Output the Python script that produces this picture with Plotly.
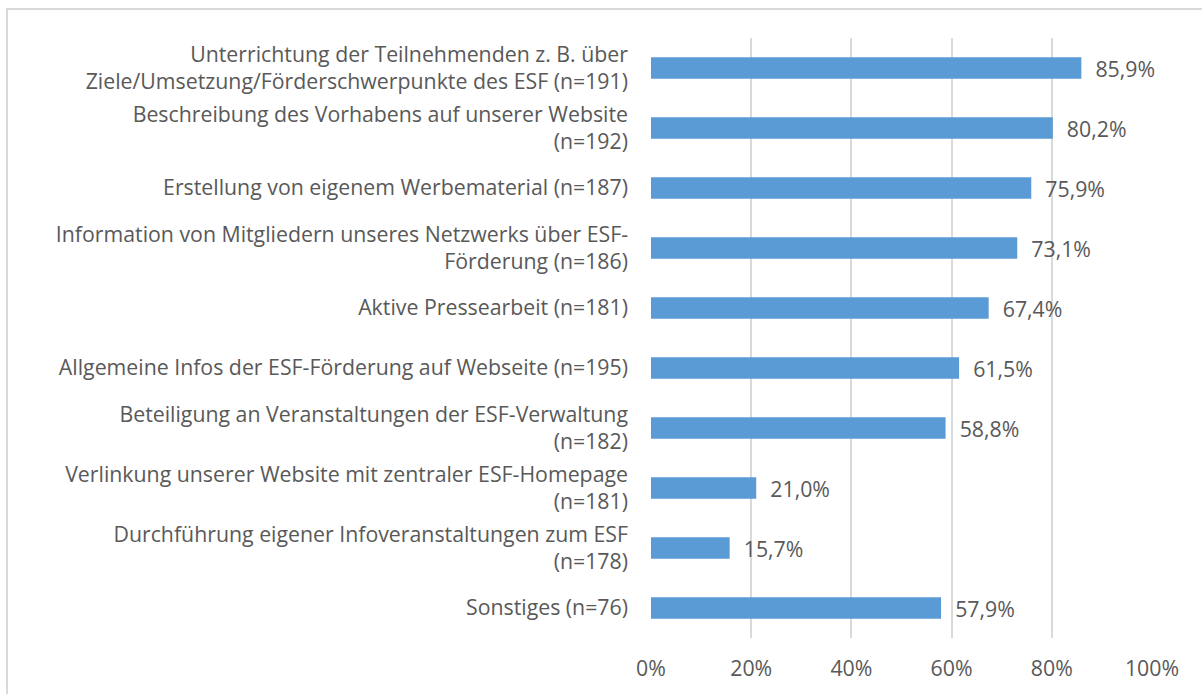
import plotly.graph_objects as go

categories = [
    "Unterrichtung der Teilnehmenden z. B. über<br>Ziele/Umsetzung/Förderschwerpunkte des ESF (n=191)",
    "Beschreibung des Vorhabens auf unserer Website<br>(n=192)",
    "Erstellung von eigenem Werbematerial (n=187)",
    "Information von Mitgliedern unseres Netzwerks über ESF-<br>Förderung (n=186)",
    "Aktive Pressearbeit (n=181)",
    "Allgemeine Infos der ESF-Förderung auf Webseite (n=195)",
    "Beteiligung an Veranstaltungen der ESF-Verwaltung<br>(n=182)",
    "Verlinkung unserer Website mit zentraler ESF-Homepage<br>(n=181)",
    "Durchführung eigener Infoveranstaltungen zum ESF<br>(n=178)",
    "Sonstiges (n=76)",
]
values = [85.9, 80.2, 75.9, 73.1, 67.4, 61.5, 58.8, 21.0, 15.7, 57.9]
labels = ["\u00a0\u00a0" + f"{v:.1f}%".replace(".", ",") for v in values]
tick_vals = [0, 20, 40, 60, 80, 100]
tick_text = ["0%", "20%", "40%", "60%", "80%", "100%"]

FONT = "Open Sans"
GREY = "#595959"
FS = 21.3

fig = go.Figure(go.Bar(
    x=values, y=categories, orientation="h",
    marker=dict(color="#5B9BD5", line=dict(width=0)),
    text=labels, textposition="outside", cliponaxis=False,
    textfont=dict(family=FONT, size=FS, color=GREY),
))

fig.update_layout(
    width=1202, height=694,
    margin=dict(l=651, r=50, t=38, b=54),
    paper_bgcolor="white", plot_bgcolor="white",
    bargap=0.64,
    showlegend=False,
    font=dict(family=FONT, size=FS, color=GREY),
    uniformtext=dict(minsize=FS, mode="show"),
    xaxis=dict(range=[0, 100], tickvals=tick_vals, ticktext=tick_text,
               showgrid=True, gridcolor="#D9D9D9", gridwidth=1.5,
               zeroline=False, showline=False, ticks="",
               tickfont=dict(family=FONT, size=FS, color=GREY),
               ticklabelstandoff=16),
    yaxis=dict(autorange="reversed", showgrid=False, zeroline=False,
               showline=False, ticks="", ticklabelstandoff=22,
               tickfont=dict(family=FONT, size=FS, color=GREY)),
    shapes=[dict(type="rect", xref="paper", yref="paper",
                 x0=-1.2854, x1=1.2, y0=-0.2, y1=1.0482,
                 line=dict(color="#D9D9D9", width=2), fillcolor="rgba(0,0,0,0)",
                 layer="below")],
)

fig.write_html("out.html", config={"displayModeBar": False},
               post_script="document.body.style.margin='0';")
